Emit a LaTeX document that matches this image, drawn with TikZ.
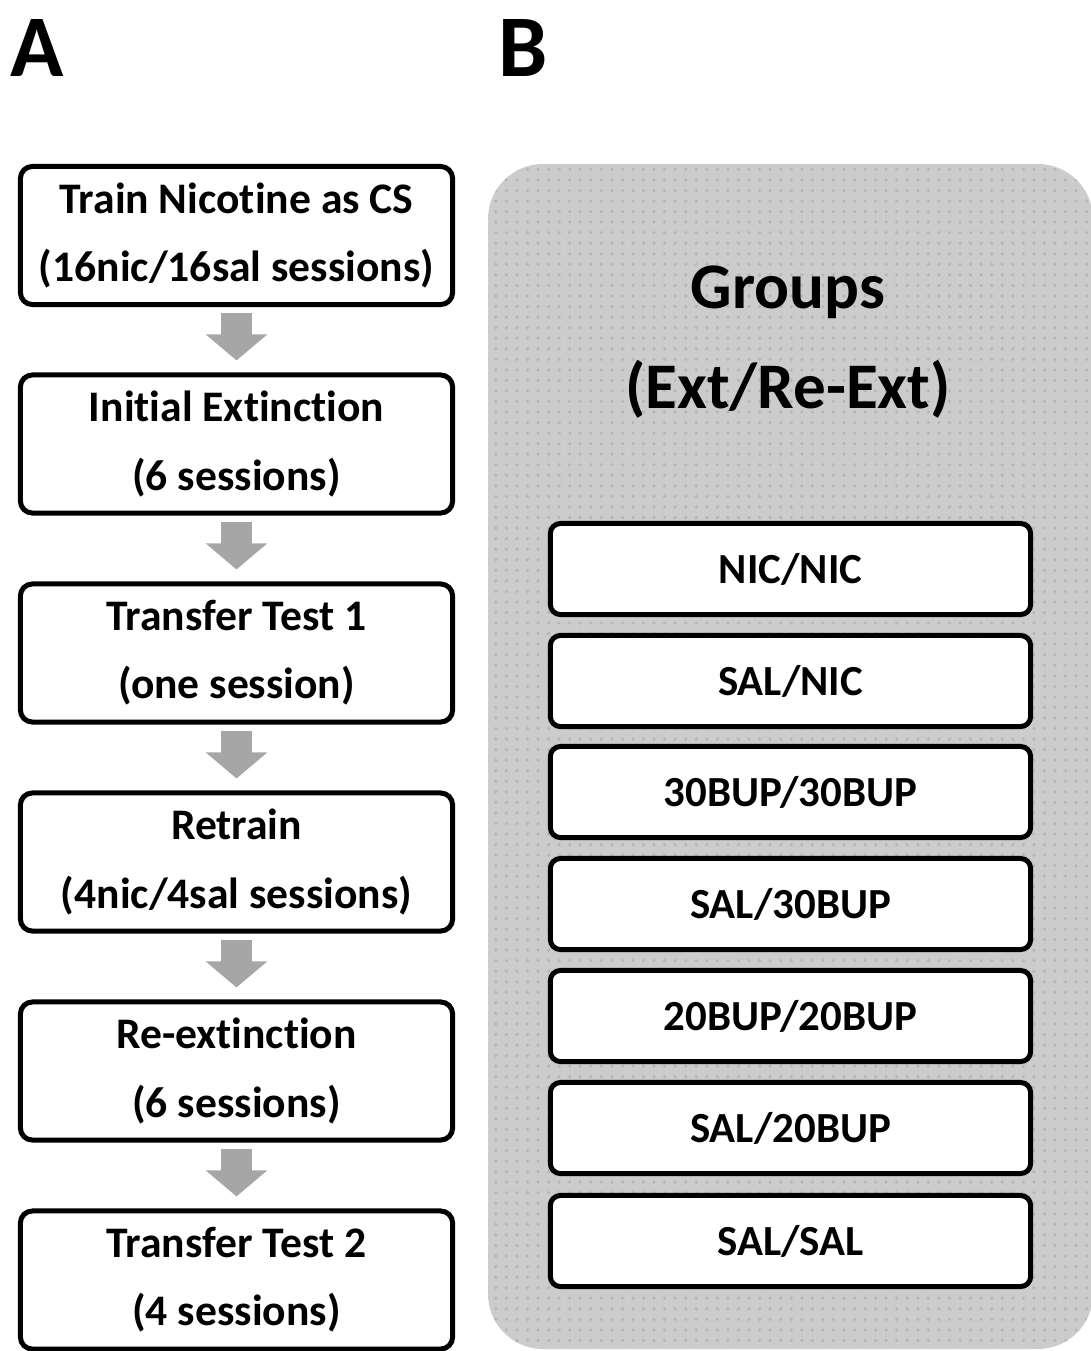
\documentclass[tikz,border=0pt]{standalone}
\usepackage{fontspec}
\setmainfont[Ligatures=NoCommon]{Carlito}
\usetikzlibrary{arrows.meta,patterns}
\definecolor{PanelClr}{RGB}{204,204,204}
\definecolor{DotClr}{RGB}{182,182,182}
\definecolor{ArrowClr}{RGB}{166,166,166}

\begin{document}
\begin{tikzpicture}[x=0.01cm,y=-0.01cm,
  stepbox/.style={draw=black,line width=0.05cm,rounded corners=0.12cm,fill=white,
    minimum width=4.32cm,minimum height=1.38cm,inner sep=0pt,align=center,
    font=\fontsize{12.4}{19.4}\selectfont\bfseries},
  groupbox/.style={draw=black,line width=0.05cm,rounded corners=0.1cm,fill=white,
    minimum width=4.8cm,minimum height=0.91cm,inner sep=0pt,
    font=\fontsize{12.2}{14}\selectfont\bfseries},
  flowarrow/.style={draw=ArrowClr,line width=0.3cm,
    -{Triangle[width=0.6cm,length=0.26cm]},shorten <=0.06cm,shorten >=0.12cm},
  panellabel/.style={anchor=base west,inner sep=0pt,font=\fontsize{25}{30}\selectfont\bfseries}]
\useasboundingbox (0,0) rectangle (1090,1351);

\fill[PanelClr,rounded corners=0.55cm] (488,164) rectangle (1093,1349);
\fill[pattern=dots,pattern color=DotClr,rounded corners=0.55cm] (488,164) rectangle (1093,1349);

\node[panellabel] (labA) at (10,76) {A};
\node[panellabel] (labB) at (498,76) {B};

\node[stepbox] (train) at (236.5,235.5) {Train Nicotine as CS\\(16nic/16sal sessions)};
\node[stepbox] (initext) at (236.5,444) {Initial Extinction\\(6 sessions)};
\node[stepbox] (test1) at (236.5,653) {Transfer Test 1\\(one session)};
\node[stepbox] (retrain) at (236.5,862) {Retrain\\(4nic/4sal sessions)};
\node[stepbox] (reext) at (236.5,1071) {Re-extinction\\(6 sessions)};
\node[stepbox] (test2) at (236.5,1280) {Transfer Test 2\\(4 sessions)};

\draw[flowarrow] (train.south) -- (initext.north);
\draw[flowarrow] (initext.south) -- (test1.north);
\draw[flowarrow] (test1.south) -- (retrain.north);
\draw[flowarrow] (retrain.south) -- (reext.north);
\draw[flowarrow] (reext.south) -- (test2.north);

\node[align=center,font=\fontsize{18.5}{28.5}\selectfont\bfseries] (groups) at (788,342) {Groups\\(Ext/Re-Ext)};

\node[groupbox] (nicnic) at (790.5,569) {NIC/NIC};
\node[groupbox] (salnic) at (790.5,681) {SAL/NIC};
\node[groupbox] (bupthirty) at (790.5,792) {30BUP/30BUP};
\node[groupbox] (salthirty) at (790.5,904) {SAL/30BUP};
\node[groupbox] (buptwenty) at (790.5,1016) {20BUP/20BUP};
\node[groupbox] (saltwenty) at (790.5,1128) {SAL/20BUP};
\node[groupbox] (salsal) at (790.5,1241) {SAL/SAL};

\end{tikzpicture}
\end{document}
